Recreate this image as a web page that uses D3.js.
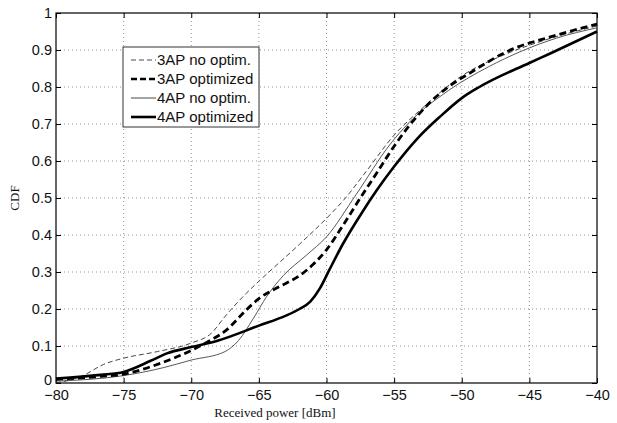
<!DOCTYPE html>
<html><head><meta charset="utf-8">
<script src="https://cdn.jsdelivr.net/npm/d3@7"></script>
<style>body{margin:0;background:#fff;}svg{display:block;}</style>
</head><body>
<svg id="c" width="617" height="423"></svg>
<script>
// ---- data ----
const xTicks = [-80,-75,-70,-65,-60,-55,-50,-45,-40];
const yTicks = [0,0.1,0.2,0.3,0.4,0.5,0.6,0.7,0.8,0.9,1];
const yTickLabels = ["0","0.1","0.2","0.3","0.4","0.5","0.6","0.7","0.8","0.9","1"];
const seriesNames = ["3AP no optim.","3AP optimized","4AP no optim.","4AP optimized"];

const ap3NoX = [-80,-78,-76.5,-75,-72.5,-70,-68.5,-67.5,-66,-65,-62,-60,-58.6,-57,-55,-53,-50,-47,-44,-40];
const ap3NoY = [0.0,0.02,0.05,0.067,0.085,0.108,0.135,0.18,0.24,0.275,0.375,0.445,0.5,0.575,0.67,0.74,0.83,0.885,0.925,0.965];

const ap3OptX = [-80,-77,-75,-72.3,-70,-68.6,-67.5,-66,-65,-63.5,-62,-61,-60,-58.8,-57.5,-56.3,-55,-54,-52.3,-51,-49.3,-46.7,-43,-40];
const ap3OptY = [0.01,0.017,0.024,0.053,0.088,0.115,0.14,0.195,0.228,0.26,0.29,0.32,0.36,0.425,0.5,0.567,0.64,0.69,0.76,0.8,0.84,0.895,0.94,0.97];

const ap4NoX = [-80,-75,-72,-70,-67.5,-66.5,-65.4,-64.4,-63.2,-61.5,-60,-57.8,-55.3,-54,-51,-48,-45.7,-43,-40];
const ap4NoY = [0.005,0.02,0.042,0.062,0.085,0.115,0.175,0.235,0.29,0.345,0.395,0.51,0.645,0.7,0.79,0.855,0.895,0.932,0.96];

const ap4OptX = [-80,-76.7,-75,-73,-71.8,-70,-68,-65,-63,-62,-61.2,-60.5,-59.8,-58.8,-57.3,-56.3,-55,-53.3,-51.6,-50,-48.7,-45,-43.5,-40];
const ap4OptY = [0.012,0.022,0.03,0.06,0.08,0.097,0.115,0.155,0.182,0.2,0.22,0.255,0.305,0.375,0.465,0.52,0.585,0.66,0.72,0.77,0.8,0.865,0.89,0.95];

// ---- layout ----
const svg = d3.select("#c");
const L = 56, R = 597, T = 13, B = 383;
const x = d3.scaleLinear().domain([-80,-40]).range([L,R]);
const y = d3.scaleLinear().domain([0,1]).range([B,T]);

// grid
const g = svg.append("g");
g.selectAll("line.gx").data(xTicks.slice(1,-1)).enter().append("line")
 .attr("x1",d=>x(d)).attr("x2",d=>x(d)).attr("y1",T).attr("y2",B)
 .attr("stroke","#777").attr("stroke-width",0.8).attr("stroke-dasharray","1,3");
g.selectAll("line.gy").data(yTicks.slice(1,-1)).enter().append("line")
 .attr("y1",d=>y(d)).attr("y2",d=>y(d)).attr("x1",L).attr("x2",R)
 .attr("stroke","#777").attr("stroke-width",0.8).attr("stroke-dasharray","1,3");

// axes (MATLAB-style, ticks inside)
const fontAx = "Liberation Sans, Arial, sans-serif";
const xa = svg.append("g").attr("transform",`translate(0,${B})`)
 .call(d3.axisBottom(x).tickValues(xTicks).tickSize(-5).tickPadding(7).tickFormat(d3.format("d")));
const xt = svg.append("g").attr("transform",`translate(0,${T})`)
 .call(d3.axisTop(x).tickValues(xTicks).tickSize(-5).tickFormat(""));
const ya = svg.append("g").attr("transform",`translate(${L},0)`)
 .call(d3.axisLeft(y).tickValues(yTicks).tickSize(-5).tickPadding(4).tickFormat((d,i)=>yTickLabels[i]));
const yr = svg.append("g").attr("transform",`translate(${R},0)`)
 .call(d3.axisRight(y).tickValues(yTicks).tickSize(-5).tickFormat(""));
[xa,xt,ya,yr].forEach(a=>{
  a.select(".domain").attr("stroke","#000").attr("stroke-width",1.2);
  a.selectAll(".tick line").attr("stroke","#000");
  a.selectAll("text").attr("font-family",fontAx).attr("font-size",14.5).attr("fill","#111");
});
// lift the "0" label a bit so it does not collide with "-80"
ya.selectAll(".tick text").filter(d=>d===0).attr("dy","0.1em");
svg.selectAll(".domain").attr("d",null);
svg.append("rect").attr("x",L).attr("y",T).attr("width",R-L).attr("height",B-T)
 .attr("fill","none").attr("stroke","#000").attr("stroke-width",1.2);

// curves
const series = [
 {xs:ap3NoX, ys:ap3NoY, w:0.9, dash:"5,3", col:"#333"},
 {xs:ap4NoX, ys:ap4NoY, w:0.9, dash:null, col:"#444"},
 {xs:ap3OptX, ys:ap3OptY, w:2.8, dash:"7,4", col:"#000"},
 {xs:ap4OptX, ys:ap4OptY, w:2.6, dash:null, col:"#000"}
];
const line = d3.line().x(d=>x(d[0])).y(d=>y(d[1])).curve(d3.curveMonotoneX);
series.forEach(s=>{
  svg.append("path").datum(s.xs.map((v,i)=>[v,s.ys[i]]))
   .attr("d",line).attr("fill","none").attr("stroke",s.col)
   .attr("stroke-width",s.w).attr("stroke-dasharray",s.dash);
});

// legend
const lg = svg.append("g");
lg.append("rect").attr("x",123).attr("y",47).attr("width",136).attr("height",80)
 .attr("fill","#fff").attr("stroke","#333").attr("stroke-width",1);
const legStyle = [
 {w:0.9,dash:"5,3",col:"#333"},
 {w:2.6,dash:"6,3",col:"#000"},
 {w:0.9,dash:null,col:"#333"},
 {w:2.6,dash:null,col:"#000"}
];
seriesNames.forEach((n,i)=>{
  const yy = 60 + i*19;
  lg.append("line").attr("x1",131).attr("x2",156).attr("y1",yy).attr("y2",yy)
   .attr("stroke",legStyle[i].col).attr("stroke-width",legStyle[i].w).attr("stroke-dasharray",legStyle[i].dash);
  lg.append("text").attr("x",157).attr("y",yy).attr("dy","0.35em")
   .attr("font-family",fontAx).attr("font-size",15).attr("fill","#111").text(n);
});

// axis labels
svg.append("text").attr("x",275).attr("y",417).attr("text-anchor","middle")
 .attr("font-family","Liberation Serif, Times New Roman, serif").attr("font-size",13).attr("fill","#111")
 .text("Received power [dBm]");
svg.append("text").attr("transform",`translate(19,${(T+B)/2}) rotate(-90)`).attr("text-anchor","middle")
 .attr("font-family","Liberation Serif, Times New Roman, serif").attr("font-size",13).attr("fill","#111")
 .text("CDF");
</script>
</body></html>
